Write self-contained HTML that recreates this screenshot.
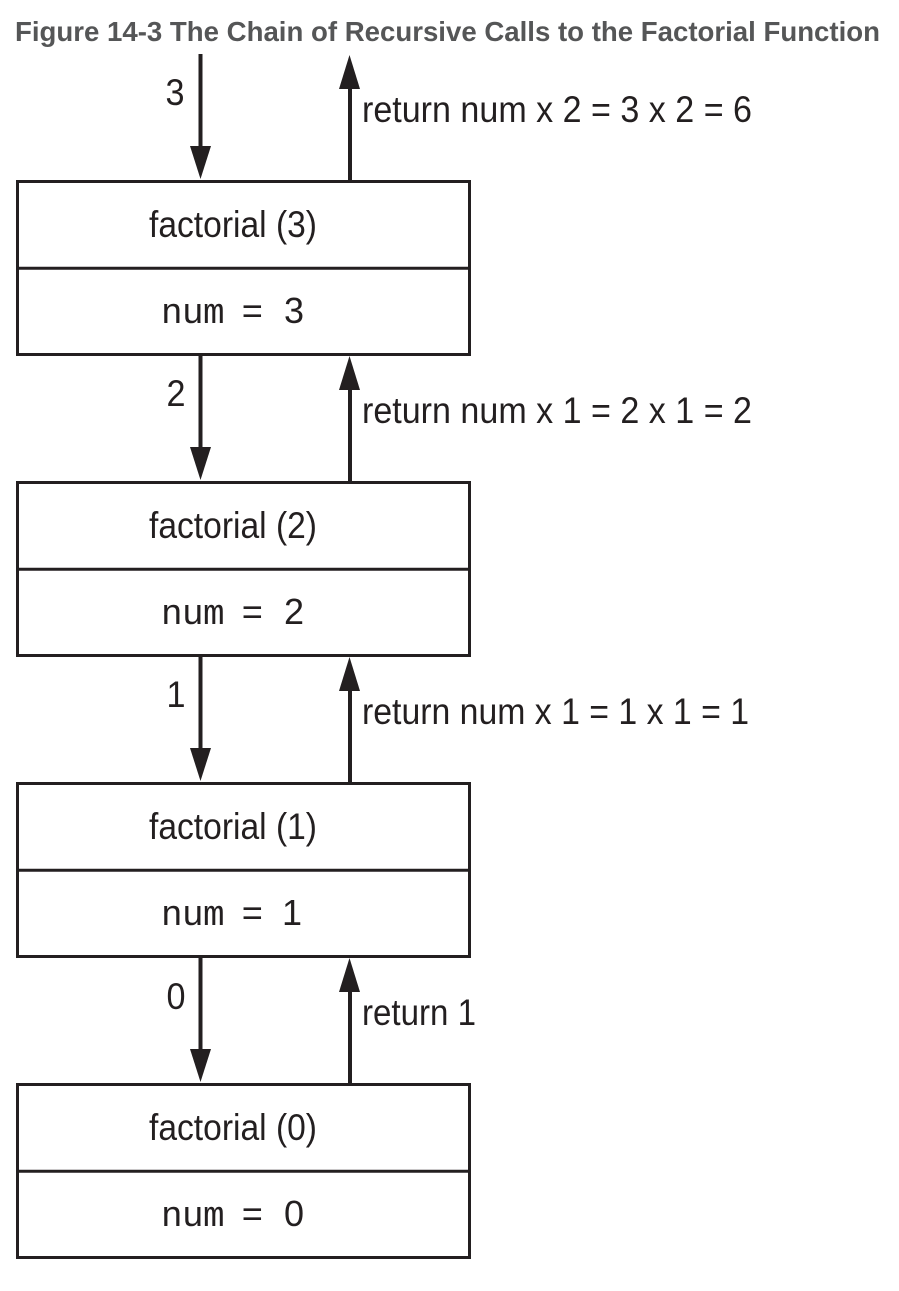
<!DOCTYPE html>
<html lang="en">
<head>
<meta charset="utf-8">
<title>Figure 14-3 The Chain of Recursive Calls to the Factorial Function</title>
<style>
html,body{margin:0;padding:0;background:#fff;width:899px;height:1291px;overflow:hidden}
svg{display:block}
.title{font:bold 28px "Liberation Sans",sans-serif;fill:#555657}
.sans{font:37px "Liberation Sans",sans-serif;fill:#231f20}
.mono{font:36px "Liberation Mono",monospace;fill:#231f20}
.digit{font:36px "Liberation Sans",sans-serif;fill:#231f20}
.box{fill:#fff;stroke:#231f20;stroke-width:3}
.div{stroke:#231f20;stroke-width:3}
.shaft{stroke:#231f20;stroke-width:4}
.head{fill:#231f20}
</style>
</head>
<body>
<svg width="899" height="1291" viewBox="0 0 899 1291">
<text class="title" x="15" y="41" textLength="865" lengthAdjust="spacingAndGlyphs">Figure 14-3 The Chain of Recursive Calls to the Factorial Function</text>

<g>
<line class="shaft" x1="200.5" y1="54" x2="200.5" y2="150"/>
<polygon class="head" points="190,146 211,146 200.5,179"/>
</g>
<text class="sans" x="165.500" y="105" textLength="19" lengthAdjust="spacingAndGlyphs">3</text>
<g>
<line class="shaft" x1="350" y1="85" x2="350" y2="181"/>
<polygon class="head" points="339,89 360,89 349.500,55"/>
</g>
<text class="sans" x="362" y="122" textLength="390" lengthAdjust="spacingAndGlyphs">return num x 2 = 3 x 2 = 6</text>
<g>
<rect class="box" x="17.500" y="181.500" width="452" height="173"/>
<line class="div" x1="17.500" y1="268.300" x2="469.500" y2="268.300"/>
<text class="sans" x="149" y="237" textLength="168" lengthAdjust="spacingAndGlyphs">factorial (3)</text>
<text class="mono" y="323" x="161 182 203 224 241.500 264">num = <tspan class="digit" x="284">3</tspan></text>
</g>

<g>
<line class="shaft" x1="200.5" y1="355" x2="200.5" y2="451"/>
<polygon class="head" points="190,447 211,447 200.5,480"/>
</g>
<text class="sans" x="166.500" y="406" textLength="19" lengthAdjust="spacingAndGlyphs">2</text>
<g>
<line class="shaft" x1="350" y1="386" x2="350" y2="482"/>
<polygon class="head" points="339,390 360,390 349.500,356"/>
</g>
<text class="sans" x="362" y="423" textLength="390" lengthAdjust="spacingAndGlyphs">return num x 1 = 2 x 1 = 2</text>
<g>
<rect class="box" x="17.500" y="482.500" width="452" height="173"/>
<line class="div" x1="17.500" y1="569.300" x2="469.500" y2="569.300"/>
<text class="sans" x="149" y="538" textLength="168" lengthAdjust="spacingAndGlyphs">factorial (2)</text>
<text class="mono" y="624" x="161 182 203 224 241.500 264">num = <tspan class="digit" x="284">2</tspan></text>
</g>

<g>
<line class="shaft" x1="200.5" y1="656" x2="200.5" y2="752"/>
<polygon class="head" points="190,748 211,748 200.5,781"/>
</g>
<text class="sans" x="166.500" y="707" textLength="19" lengthAdjust="spacingAndGlyphs">1</text>
<g>
<line class="shaft" x1="350" y1="687" x2="350" y2="783"/>
<polygon class="head" points="339,691 360,691 349.500,657"/>
</g>
<text class="sans" x="362" y="724" textLength="387" lengthAdjust="spacingAndGlyphs">return num x 1 = 1 x 1 = 1</text>
<g>
<rect class="box" x="17.500" y="783.500" width="452" height="173"/>
<line class="div" x1="17.500" y1="870.300" x2="469.500" y2="870.300"/>
<text class="sans" x="149" y="839" textLength="168" lengthAdjust="spacingAndGlyphs">factorial (1)</text>
<text class="mono" y="925" x="161 182 203 224 241.500 264">num = <tspan class="digit" x="282">1</tspan></text>
</g>

<g>
<line class="shaft" x1="200.5" y1="957" x2="200.5" y2="1053"/>
<polygon class="head" points="190,1049 211,1049 200.5,1082"/>
</g>
<text class="sans" x="166.500" y="1009" textLength="19" lengthAdjust="spacingAndGlyphs">0</text>
<g>
<line class="shaft" x1="350" y1="988" x2="350" y2="1084"/>
<polygon class="head" points="339,992 360,992 349.500,958"/>
</g>
<text class="sans" x="362" y="1025" textLength="114" lengthAdjust="spacingAndGlyphs">return 1</text>
<g>
<rect class="box" x="17.500" y="1084.500" width="452" height="173"/>
<line class="div" x1="17.500" y1="1171.300" x2="469.500" y2="1171.300"/>
<text class="sans" x="149" y="1140" textLength="168" lengthAdjust="spacingAndGlyphs">factorial (0)</text>
<text class="mono" y="1226" x="161 182 203 224 241.500 264">num = <tspan class="digit" x="284">0</tspan></text>
</g>
</svg>
</body>
</html>
